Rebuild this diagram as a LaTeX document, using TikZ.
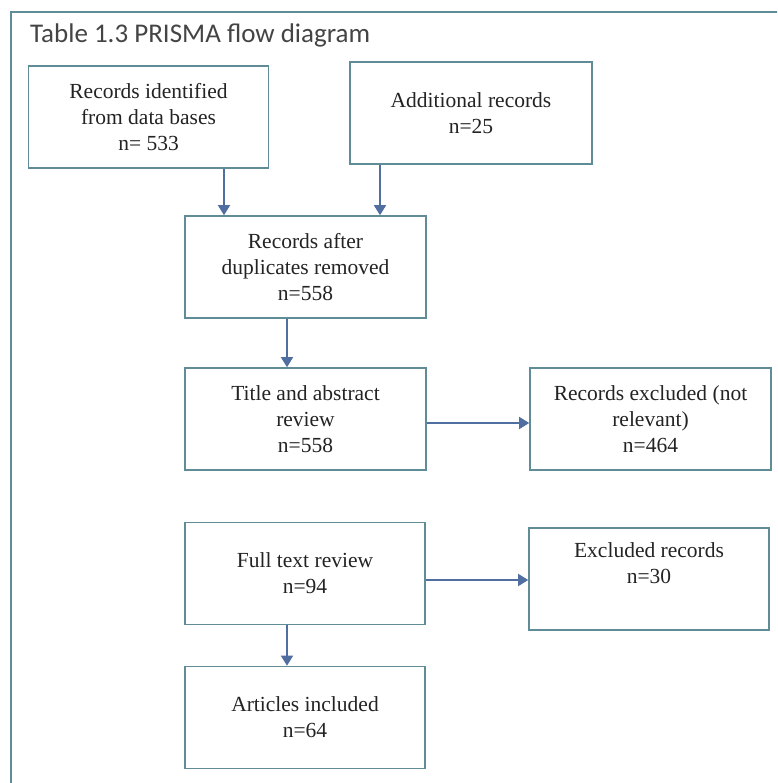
\documentclass[tikz,border=0pt]{standalone}
\usepackage{fontspec}
\setmainfont{Liberation Serif}
\newfontfamily\titlefont{Carlito}
\usetikzlibrary{arrows.meta}
\definecolor{boxline}{RGB}{95,140,150}
\definecolor{arrowblue}{RGB}{80,110,160}
\definecolor{txt}{RGB}{35,35,35}
\tikzset{
  flowbox/.style={draw=boxline, line width=1.6pt, fill=white, minimum width=240pt, minimum height=102pt,
    align=center, text=txt, font=\fontsize{21.5}{26}\selectfont, inner sep=0pt},
  flowarrow/.style={draw=arrowblue, line width=1.5pt, -{Triangle[width=12pt,length=10pt]}}
}
\begin{document}
\begin{tikzpicture}[x=1pt,y=-1pt]
\clip (0,0) rectangle (777,783);
\fill[white] (0,0) rectangle (777,783);
\draw[boxline, line width=2.5pt] (11,12) rectangle (800,800);
\node[anchor=base west, text=txt!85, font=\titlefont\fontsize{27}{30}\selectfont, inner sep=0pt] (title) at (30,43) {Table 1.3 PRISMA flow diagram};

\node[flowbox] (b1) at (148.5,117) {Records identified\\from data bases\\n= 533};
\node[flowbox, minimum width=242pt] (b2) at (471,113) {Additional records\\n=25};
\node[flowbox, minimum width=241pt] (b3) at (305.5,267) {Records after\\duplicates removed\\n=558};
\node[flowbox, minimum width=241pt] (b4) at (305.5,419) {Title and abstract\\review\\n=558};
\node[flowbox, minimum width=241pt] (b5) at (650.5,419) {Records excluded (not\\relevant)\\n=464};
\node[flowbox] (b6) at (305,573.5) {Full text review\\n=94};
\node[flowbox] (b7) at (649,579) {Excluded records\\n=30\\[6pt]};
\node[flowbox] (b8) at (305,717.5) {Articles included\\n=64};

\draw[flowarrow] (b1.south -| 224,0) -- (b3.north -| 224,0);
\draw[flowarrow] (b2.south -| 380,0) -- (b3.north -| 380,0);
\draw[flowarrow] (b3.south -| 287,0) -- (b4.north -| 287,0);
\draw[flowarrow] (b4.east |- 0,423) -- (b5.west |- 0,423);
\draw[flowarrow] (b6.east |- 0,580) -- (b7.west |- 0,580);
\draw[flowarrow] (b6.south -| 287,0) -- (b8.north -| 287,0);
\end{tikzpicture}
\end{document}
